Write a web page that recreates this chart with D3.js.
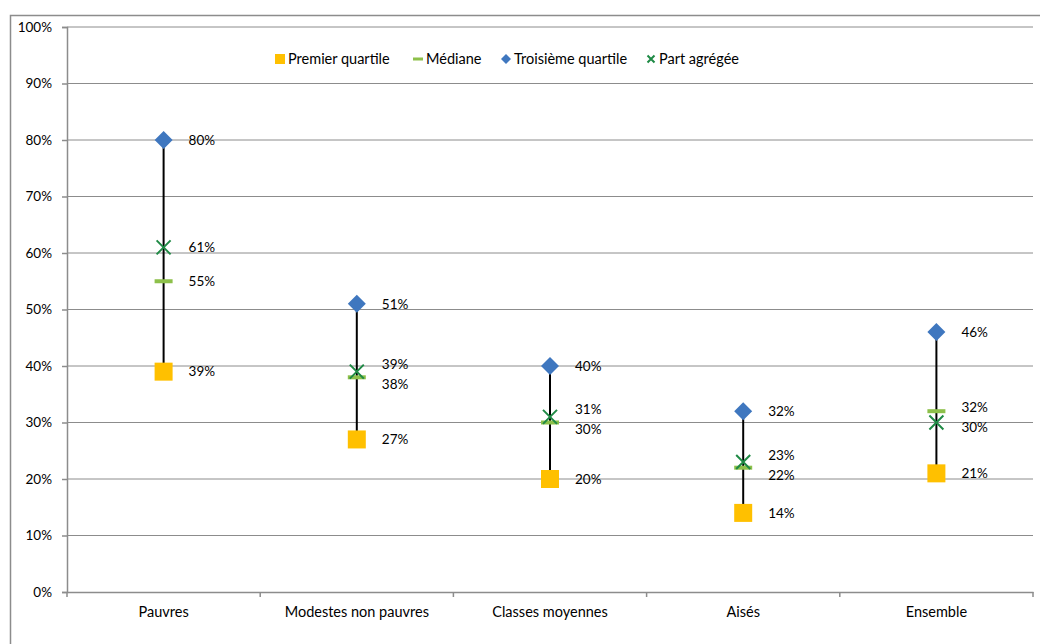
<!DOCTYPE html>
<html>
<head>
<meta charset="utf-8">
<script src="https://cdn.jsdelivr.net/npm/d3@7"></script>
<style>
  html, body { margin: 0; padding: 0; background: #fff; }
  svg { display: block; font-family: Lato, "Open Sans", sans-serif; }
</style>
</head>
<body>
<svg id="chart" width="1040" height="644"></svg>
<script>
// Share distribution by household group (percent)
const categories = ["Pauvres", "Modestes non pauvres", "Classes moyennes", "Aisés", "Ensemble"];
const premierQuartile = [39, 27, 20, 14, 21];
const mediane = [55, 38, 30, 22, 32];
const troisiemeQuartile = [80, 51, 40, 32, 46];
const partAgregee = [61, 39, 31, 23, 30];
const yTicks = [0, 10, 20, 30, 40, 50, 60, 70, 80, 90, 100];

const svg = d3.select("#chart");
const margin = { left: 67, right: 7, top: 27, bottom: 52 };
const W = 1040, H = 644;
const textFont = "14.5px";
const numFont = "13.5px";

// outer frame
svg.append("rect")
  .attr("x", 10.5).attr("y", 15.5)
  .attr("width", 1040).attr("height", 640)
  .attr("fill", "none").attr("stroke", "#8c8c8c").attr("stroke-width", 1.5);

const x = d3.scaleBand().domain(categories)
  .range([margin.left, W - margin.right]).padding(0);
const y = d3.scaleLinear().domain([0, 100]).range([H - margin.bottom, margin.top]);

// horizontal gridlines
svg.append("g").selectAll("line").data(yTicks.filter(t => t > 0)).join("line")
  .attr("x1", margin.left).attr("x2", W - margin.right)
  .attr("y1", d => y(d)).attr("y2", d => y(d))
  .attr("stroke", "#8c8c8c").attr("stroke-width", 1);

// y axis
const yAxis = svg.append("g").attr("transform", `translate(${margin.left},0)`)
  .call(d3.axisLeft(y).tickValues(yTicks).tickFormat(d => d + "%").tickSize(5).tickPadding(10));
yAxis.select(".domain").attr("stroke", "#8c8c8c").attr("stroke-width", 1.5);
yAxis.selectAll(".tick line").attr("stroke", "#8c8c8c").attr("stroke-width", 1.5);
yAxis.selectAll("text").attr("fill", "#000").style("font-size", numFont)
  .style("font-family", "Lato, 'Open Sans', sans-serif");

// x axis
const xAxis = svg.append("g").attr("transform", `translate(0,${y(0)})`)
  .call(d3.axisBottom(x).tickSize(0).tickPadding(15));
xAxis.select(".domain").attr("stroke", "#8c8c8c").attr("stroke-width", 1.5);
xAxis.selectAll("text").attr("fill", "#000").style("font-size", textFont)
  .style("font-family", "Lato, 'Open Sans', sans-serif");
// category separators
svg.append("g").selectAll("line")
  .data(categories.map(c => x(c)).concat([x(categories[categories.length - 1]) + x.bandwidth()]))
  .join("line")
  .attr("x1", d => d).attr("x2", d => d)
  .attr("y1", y(0)).attr("y2", y(0) + 5)
  .attr("stroke", "#8c8c8c").attr("stroke-width", 1.5);

const cx = c => x(c) + x.bandwidth() / 2;

// high-low lines
svg.append("g").selectAll("line").data(categories).join("line")
  .attr("x1", cx).attr("x2", cx)
  .attr("y1", (c, i) => y(premierQuartile[i]))
  .attr("y2", (c, i) => y(troisiemeQuartile[i]))
  .attr("stroke", "#000").attr("stroke-width", 2);

const colors = {
  q1: "#FFC000",
  med: "#8DC04A",
  q3: "#3F77BF",
  agg: "#1F8A45"
};

// markers
const g = svg.append("g");
function drawMarkers(values, kind) {
  values.forEach((v, i) => {
    const px = cx(categories[i]), py = y(v);
    if (kind === "q1") {
      g.append("rect").attr("x", px - 9).attr("y", py - 9).attr("width", 18).attr("height", 18)
        .attr("fill", colors.q1);
    } else if (kind === "med") {
      g.append("rect").attr("x", px - 9).attr("y", py - 2).attr("width", 18).attr("height", 4)
        .attr("fill", colors.med);
    } else if (kind === "q3") {
      g.append("path").attr("d", `M${px},${py - 9}L${px + 9},${py}L${px},${py + 9}L${px - 9},${py}Z`)
        .attr("fill", colors.q3);
    } else {
      g.append("path").attr("d", `M${px - 7},${py - 7}L${px + 7},${py + 7}M${px + 7},${py - 7}L${px - 7},${py + 7}`)
        .attr("stroke", colors.agg).attr("stroke-width", 2).attr("fill", "none");
    }
  });
}
drawMarkers(premierQuartile, "q1");
drawMarkers(mediane, "med");
drawMarkers(troisiemeQuartile, "q3");
drawMarkers(partAgregee, "agg");

// data labels, spread apart vertically where they would overlap
const minGap = 20;
categories.forEach((c, i) => {
  const items = [troisiemeQuartile[i], partAgregee[i], mediane[i], premierQuartile[i]]
    .map(v => ({ v, py: y(v) }))
    .sort((a, b) => a.py - b.py);
  for (let k = 0; k < items.length - 1; k++) {
    const a = items[k], b = items[k + 1];
    if (b.py - a.py < minGap) {
      const mid = (a.py + b.py) / 2;
      a.py = mid - minGap / 2;
      b.py = mid + minGap / 2;
    }
  }
  items.forEach(it => {
    svg.append("text")
      .attr("x", cx(c) + 25).attr("y", it.py).attr("dy", "0.35em")
      .style("font-size", numFont).attr("fill", "#000")
      .text(d3.format(".0f")(it.v) + "%");
  });
});

// legend
const legendItems = [
  { label: "Premier quartile", kind: "q1", x: 275 },
  { label: "Médiane", kind: "med", x: 413 },
  { label: "Troisième quartile", kind: "q3", x: 501 },
  { label: "Part agrégée", kind: "agg", x: 646 }
];
const lg = svg.append("g");
const ly = 59;
legendItems.forEach(it => {
  const px = it.x + 5;
  if (it.kind === "q1") {
    lg.append("rect").attr("x", px - 5).attr("y", ly - 5).attr("width", 10).attr("height", 10).attr("fill", colors.q1);
  } else if (it.kind === "med") {
    lg.append("rect").attr("x", px - 5).attr("y", ly - 1.5).attr("width", 10).attr("height", 3).attr("fill", colors.med);
  } else if (it.kind === "q3") {
    lg.append("path").attr("d", `M${px},${ly - 5}L${px + 5},${ly}L${px},${ly + 5}L${px - 5},${ly}Z`).attr("fill", colors.q3);
  } else {
    lg.append("path").attr("d", `M${px - 3.5},${ly - 3.5}L${px + 3.5},${ly + 3.5}M${px + 3.5},${ly - 3.5}L${px - 3.5},${ly + 3.5}`)
      .attr("stroke", colors.agg).attr("stroke-width", 2);
  }
  lg.append("text").attr("x", it.x + 13).attr("y", ly).attr("dy", "0.35em")
    .style("font-size", textFont).attr("fill", "#000").text(it.label);
});
</script>
</body>
</html>
